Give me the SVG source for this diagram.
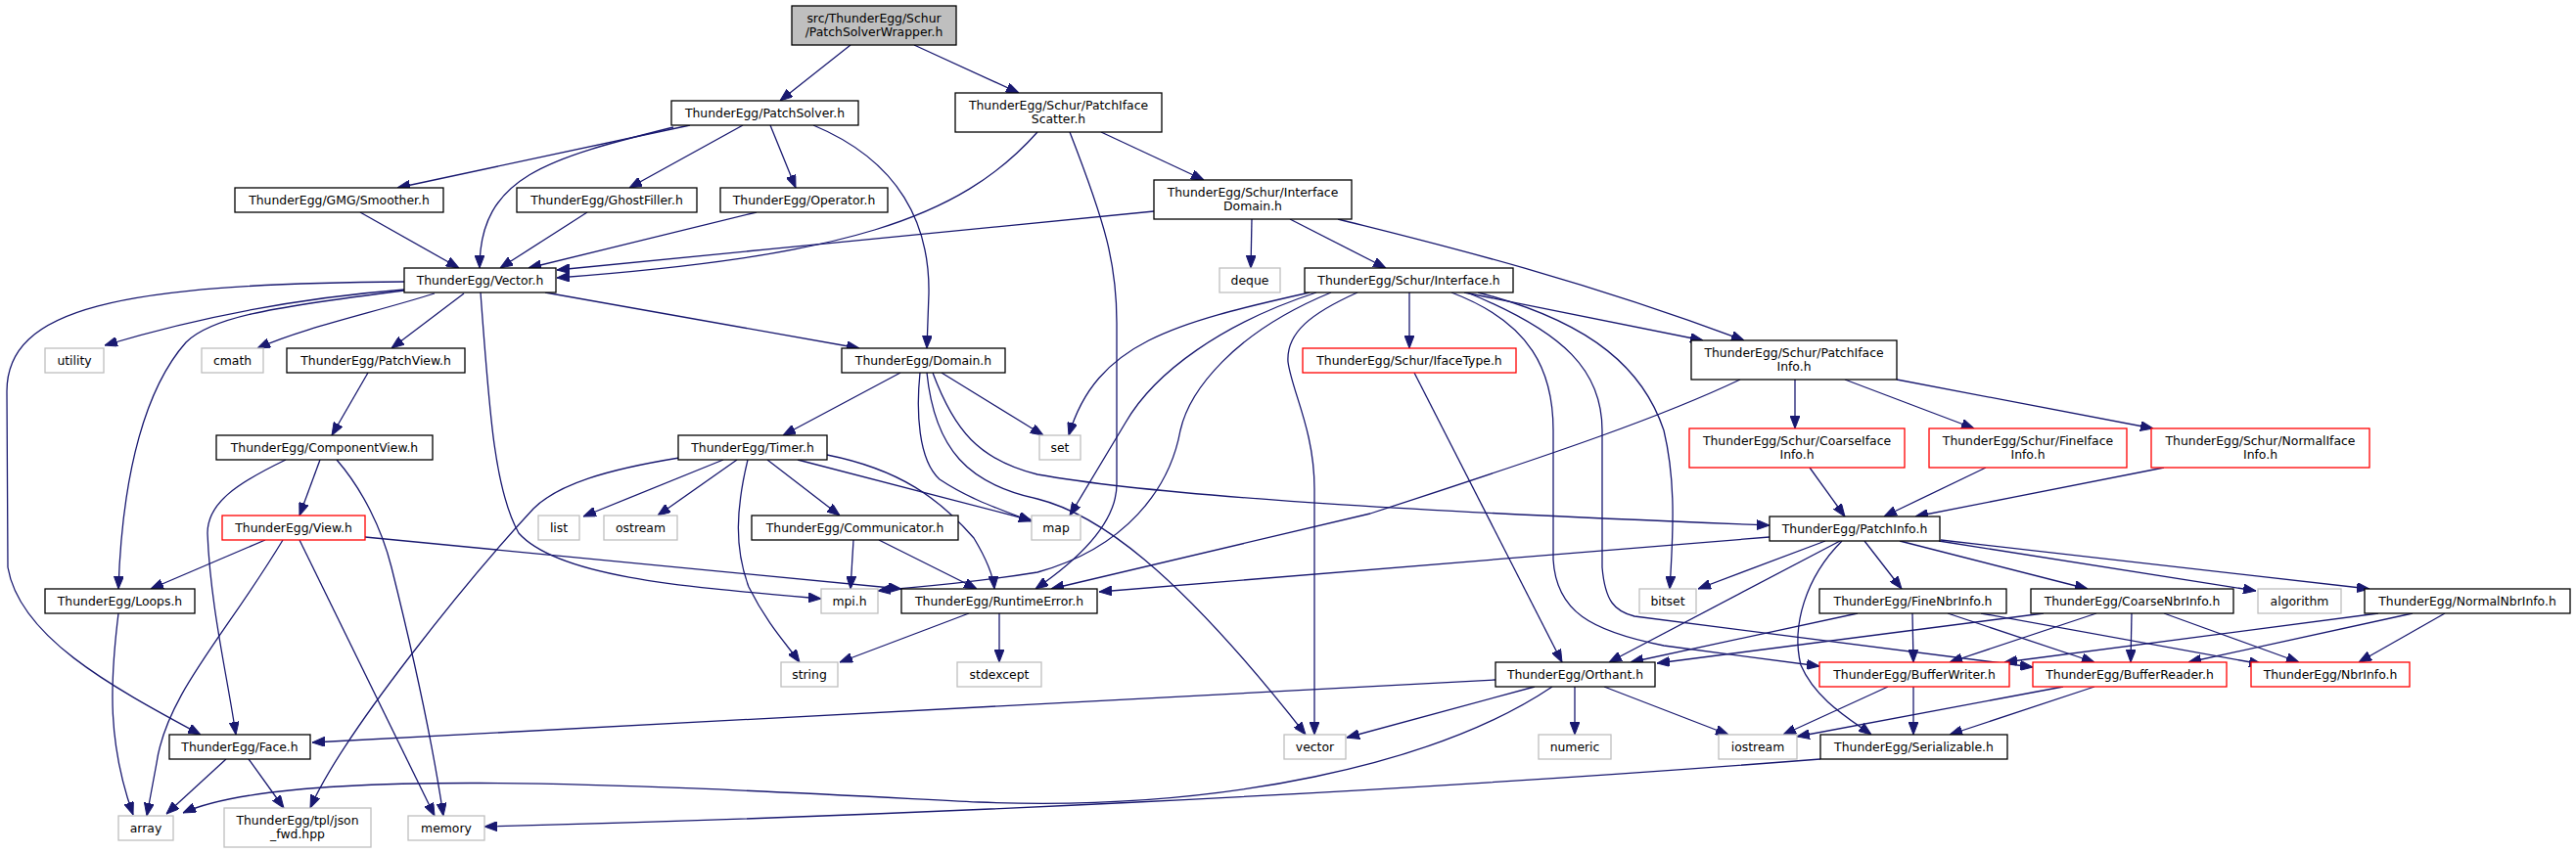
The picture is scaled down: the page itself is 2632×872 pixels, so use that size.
<svg xmlns="http://www.w3.org/2000/svg" width="2632" height="872" viewBox="0 0 2632 872">
<style>
.n rect{fill:#fff;stroke:#000;stroke-width:1.3}
.n.g rect{stroke:#bfbfbf}
.n.r rect{stroke:#ff0000}
.n.top rect{fill:#bfbfbf}
text{font-family:"DejaVu Sans","Liberation Sans",sans-serif;font-size:12.4px;fill:#000;text-anchor:middle}
#edges path{fill:none;stroke:#191970;stroke-width:1.3;marker-end:url(#ah)}
</style>
<defs>
<marker id="ah" markerWidth="13" markerHeight="10" refX="13" refY="5" orient="auto" markerUnits="userSpaceOnUse"><path d="M0,0 L13,5 L0,10 z" fill="#191970" stroke="#191970" stroke-width="1"/></marker>
</defs>
<rect width="2632" height="872" fill="#fff"/>
<g id="edges">
<path d="M869,46 L797,103"/>
<path d="M934,46 L1041,95"/>
<path d="M705,128 L406,192"/>
<path d="M688,130 C560,162 490,180 490,274"/>
<path d="M759,128 L643,192"/>
<path d="M787,128 L813,192"/>
<path d="M831,128 C920,165 950,230 949,300 L947,356"/>
<path d="M1060,135 C980,225 860,262 569,284"/>
<path d="M1093,135 C1130,230 1141,270 1141,330 L1141,495 C1141,540 1090,580 1058,602"/>
<path d="M1125,135 L1230,184"/>
<path d="M368,217 L469,274"/>
<path d="M600,217 L511,274"/>
<path d="M773,217 L540,274"/>
<path d="M1179,216 L569,276"/>
<path d="M1279,224 L1278,274"/>
<path d="M1318,224 L1416,274"/>
<path d="M1367,224 C1450,245 1600,280 1782,348"/>
<path d="M413,296 C300,305 200,325 107,353"/>
<path d="M413,297 C270,315 215,325 190,350 C150,395 125,480 121,602"/>
<path d="M413,288 C120,290 7,315 7,400 L8,580 C20,650 110,700 205,751"/>
<path d="M444,300 C380,320 310,335 263,356"/>
<path d="M474,300 L400,356"/>
<path d="M491,299 C500,420 505,500 530,545 C570,590 700,600 839,612"/>
<path d="M557,299 L878,356"/>
<path d="M920,381 L800,445"/>
<path d="M962,381 L1066,445"/>
<path d="M940,381 C936,420 938,470 960,490 C990,510 1020,520 1054,533"/>
<path d="M947,381 C955,460 990,495 1060,510 C1120,525 1200,580 1334,751"/>
<path d="M953,381 C975,440 1000,470 1060,485 C1200,510 1500,525 1808,537"/>
<path d="M1440,299 L1440,356"/>
<path d="M1496,299 L1740,348"/>
<path d="M1338,299 C1200,330 1120,350 1092,445"/>
<path d="M1345,299 C1250,330 1180,380 1150,432 L1093,527"/>
<path d="M1360,299 C1260,340 1215,400 1206,440 C1195,500 1150,560 1060,585 C980,598 930,600 897,604"/>
<path d="M1387,299 C1340,320 1314,340 1316,370 C1320,400 1343,440 1343,500 L1343,751"/>
<path d="M1510,299 C1630,330 1680,380 1700,440 C1712,490 1710,540 1706,602"/>
<path d="M1483,299 C1565,330 1587,380 1587,440 L1587,572 C1590,625 1625,645 1700,660 L1859,681"/>
<path d="M1499,299 C1600,340 1637,380 1637,440 L1637,580 C1640,615 1650,625 1670,630 L2077,682"/>
<path d="M1445,381 L1596,677"/>
<path d="M1834,388 L1834,438"/>
<path d="M1885,388 L2017,438"/>
<path d="M1938,388 L2200,438"/>
<path d="M1778,388 C1700,425 1600,460 1400,525 L1074,602"/>
<path d="M1849,478 L1885,528"/>
<path d="M2029,478 L1925,528"/>
<path d="M2211,478 L1957,528"/>
<path d="M1808,549 L1123,605"/>
<path d="M1865,553 L1735,602"/>
<path d="M1880,553 L1644,677"/>
<path d="M1882,553 C1845,590 1830,640 1840,680 C1855,715 1890,735 1912,751"/>
<path d="M1905,553 L1943,602"/>
<path d="M1941,553 L2133,602"/>
<path d="M1981,553 L2305,604"/>
<path d="M1983,552 L2421,602"/>
<path d="M1898,627 L1666,677"/>
<path d="M1954,627 L1955,677"/>
<path d="M1990,627 L2140,677"/>
<path d="M2024,627 L2311,679"/>
<path d="M2088,627 L1693,678"/>
<path d="M2142,627 L1992,677"/>
<path d="M2178,627 L2177,677"/>
<path d="M2211,627 L2349,677"/>
<path d="M2430,627 L2048,677"/>
<path d="M2465,627 L2236,677"/>
<path d="M2498,627 L2410,677"/>
<path d="M1929,702 L1822,751"/>
<path d="M1955,702 L1955,751"/>
<path d="M2108,702 L1836,753"/>
<path d="M2140,702 L1992,751"/>
<path d="M1568,702 L1376,754"/>
<path d="M1609,702 L1609,751"/>
<path d="M1639,702 L1766,751"/>
<path d="M1528,695 L319,759"/>
<path d="M1586,702 C1470,780 1250,830 1000,820 C700,805 300,780 187,831"/>
<path d="M1860,776 C1400,812 900,835 495,845"/>
<path d="M231,776 L170,832"/>
<path d="M254,776 L290,826"/>
<path d="M121,627 C112,700 110,760 136,833"/>
<path d="M327,470 L306,527"/>
<path d="M292,470 C240,495 212,515 212,545 C215,620 232,690 241,751"/>
<path d="M344,470 C370,500 390,540 400,580 C430,700 445,780 453,834"/>
<path d="M271,552 L154,602"/>
<path d="M289,552 C230,650 170,710 160,780 L150,834"/>
<path d="M306,552 L444,834"/>
<path d="M373,549 L921,602"/>
<path d="M376,381 L339,445"/>
<path d="M694,468 C620,480 570,495 545,520 C480,590 350,750 317,826"/>
<path d="M739,470 L596,528"/>
<path d="M753,470 L672,527"/>
<path d="M764,470 C752,520 750,560 765,600 C785,640 805,660 817,677"/>
<path d="M784,470 L858,527"/>
<path d="M815,470 L1054,532"/>
<path d="M845,465 C920,480 960,510 995,550 C1010,575 1015,590 1016,602"/>
<path d="M872,552 L869,602"/>
<path d="M898,552 L998,602"/>
<path d="M990,627 L858,677"/>
<path d="M1021,627 L1021,677"/>
</g>
<g id="n0" class="n top"><rect x="809" y="6" width="168" height="40"/><text x="893" y="23">src/ThunderEgg/Schur</text><text x="893" y="37">/PatchSolverWrapper.h</text></g>
<g id="n1" class="n"><rect x="686" y="103" width="191" height="25"/><text x="781.5" y="119.5">ThunderEgg/PatchSolver.h</text></g>
<g id="n2" class="n"><rect x="976" y="95" width="211" height="40"/><text x="1081.5" y="112">ThunderEgg/Schur/PatchIface</text><text x="1081.5" y="126">Scatter.h</text></g>
<g id="n3" class="n"><rect x="240" y="192" width="213" height="25"/><text x="346.5" y="208.5">ThunderEgg/GMG/Smoother.h</text></g>
<g id="n4" class="n"><rect x="528" y="192" width="184" height="25"/><text x="620" y="208.5">ThunderEgg/GhostFiller.h</text></g>
<g id="n5" class="n"><rect x="736" y="192" width="171" height="25"/><text x="821.5" y="208.5">ThunderEgg/Operator.h</text></g>
<g id="n6" class="n"><rect x="413" y="274" width="155" height="25"/><text x="490.5" y="290.5">ThunderEgg/Vector.h</text></g>
<g id="n7" class="n"><rect x="860" y="356" width="167" height="25"/><text x="943.5" y="372.5">ThunderEgg/Domain.h</text></g>
<g id="n8" class="n"><rect x="1179" y="184" width="202" height="40"/><text x="1280" y="201">ThunderEgg/Schur/Interface</text><text x="1280" y="215">Domain.h</text></g>
<g id="n9" class="n g"><rect x="1246" y="274" width="62" height="25"/><text x="1277" y="290.5">deque</text></g>
<g id="n10" class="n"><rect x="1333" y="274" width="213" height="25"/><text x="1439.5" y="290.5">ThunderEgg/Schur/Interface.h</text></g>
<g id="n11" class="n r"><rect x="1331" y="356" width="218" height="25"/><text x="1440" y="372.5">ThunderEgg/Schur/IfaceType.h</text></g>
<g id="n12" class="n"><rect x="1728" y="348" width="210" height="40"/><text x="1833" y="365">ThunderEgg/Schur/PatchIface</text><text x="1833" y="379">Info.h</text></g>
<g id="n13" class="n g"><rect x="46" y="356" width="60" height="25"/><text x="76" y="372.5">utility</text></g>
<g id="n14" class="n g"><rect x="206" y="356" width="63" height="25"/><text x="237.5" y="372.5">cmath</text></g>
<g id="n15" class="n"><rect x="293" y="356" width="182" height="25"/><text x="384" y="372.5">ThunderEgg/PatchView.h</text></g>
<g id="n16" class="n"><rect x="221" y="445" width="221" height="25"/><text x="331.5" y="461.5">ThunderEgg/ComponentView.h</text></g>
<g id="n17" class="n r"><rect x="227" y="527" width="146" height="25"/><text x="300" y="543.5">ThunderEgg/View.h</text></g>
<g id="n18" class="n"><rect x="46" y="602" width="153" height="25"/><text x="122.5" y="618.5">ThunderEgg/Loops.h</text></g>
<g id="n19" class="n"><rect x="173" y="751" width="144" height="25"/><text x="245" y="767.5">ThunderEgg/Face.h</text></g>
<g id="n20" class="n g"><rect x="121" y="834" width="56" height="25"/><text x="149" y="850.5">array</text></g>
<g id="n21" class="n g"><rect x="229" y="826" width="150" height="40"/><text x="304" y="843">ThunderEgg/tpl/json</text><text x="304" y="857">_fwd.hpp</text></g>
<g id="n22" class="n g"><rect x="417" y="834" width="78" height="25"/><text x="456" y="850.5">memory</text></g>
<g id="n23" class="n"><rect x="693" y="445" width="152" height="25"/><text x="769" y="461.5">ThunderEgg/Timer.h</text></g>
<g id="n24" class="n g"><rect x="550" y="527" width="42" height="25"/><text x="571" y="543.5">list</text></g>
<g id="n25" class="n g"><rect x="617" y="527" width="75" height="25"/><text x="654.5" y="543.5">ostream</text></g>
<g id="n26" class="n"><rect x="768" y="527" width="211" height="25"/><text x="873.5" y="543.5">ThunderEgg/Communicator.h</text></g>
<g id="n27" class="n g"><rect x="1054" y="527" width="50" height="25"/><text x="1079" y="543.5">map</text></g>
<g id="n28" class="n g"><rect x="1062" y="445" width="42" height="25"/><text x="1083" y="461.5">set</text></g>
<g id="n29" class="n g"><rect x="839" y="602" width="58" height="25"/><text x="868" y="618.5">mpi.h</text></g>
<g id="n30" class="n"><rect x="921" y="602" width="200" height="25"/><text x="1021" y="618.5">ThunderEgg/RuntimeError.h</text></g>
<g id="n31" class="n g"><rect x="798" y="677" width="58" height="25"/><text x="827" y="693.5">string</text></g>
<g id="n32" class="n g"><rect x="978" y="677" width="86" height="25"/><text x="1021" y="693.5">stdexcept</text></g>
<g id="n33" class="n r"><rect x="1726" y="438" width="220" height="40"/><text x="1836" y="455">ThunderEgg/Schur/CoarseIface</text><text x="1836" y="469">Info.h</text></g>
<g id="n34" class="n r"><rect x="1971" y="438" width="202" height="40"/><text x="2072" y="455">ThunderEgg/Schur/FineIface</text><text x="2072" y="469">Info.h</text></g>
<g id="n35" class="n r"><rect x="2198" y="438" width="223" height="40"/><text x="2309.5" y="455">ThunderEgg/Schur/NormalIface</text><text x="2309.5" y="469">Info.h</text></g>
<g id="n36" class="n"><rect x="1808" y="528" width="174" height="25"/><text x="1895" y="544.5">ThunderEgg/PatchInfo.h</text></g>
<g id="n37" class="n g"><rect x="1675" y="602" width="58" height="25"/><text x="1704" y="618.5">bitset</text></g>
<g id="n38" class="n"><rect x="1859" y="602" width="191" height="25"/><text x="1954.5" y="618.5">ThunderEgg/FineNbrInfo.h</text></g>
<g id="n39" class="n"><rect x="2075" y="602" width="207" height="25"/><text x="2178.5" y="618.5">ThunderEgg/CoarseNbrInfo.h</text></g>
<g id="n40" class="n g"><rect x="2307" y="602" width="85" height="25"/><text x="2349.5" y="618.5">algorithm</text></g>
<g id="n41" class="n"><rect x="2416" y="602" width="210" height="25"/><text x="2521" y="618.5">ThunderEgg/NormalNbrInfo.h</text></g>
<g id="n42" class="n"><rect x="1528" y="677" width="163" height="25"/><text x="1609.5" y="693.5">ThunderEgg/Orthant.h</text></g>
<g id="n43" class="n r"><rect x="1859" y="677" width="194" height="25"/><text x="1956" y="693.5">ThunderEgg/BufferWriter.h</text></g>
<g id="n44" class="n r"><rect x="2077" y="677" width="198" height="25"/><text x="2176" y="693.5">ThunderEgg/BufferReader.h</text></g>
<g id="n45" class="n r"><rect x="2300" y="677" width="162" height="25"/><text x="2381" y="693.5">ThunderEgg/NbrInfo.h</text></g>
<g id="n46" class="n g"><rect x="1312" y="751" width="63" height="25"/><text x="1343.5" y="767.5">vector</text></g>
<g id="n47" class="n g"><rect x="1572" y="751" width="74" height="25"/><text x="1609" y="767.5">numeric</text></g>
<g id="n48" class="n g"><rect x="1756" y="751" width="80" height="25"/><text x="1796" y="767.5">iostream</text></g>
<g id="n49" class="n"><rect x="1860" y="751" width="191" height="25"/><text x="1955.5" y="767.5">ThunderEgg/Serializable.h</text></g>
</svg>
